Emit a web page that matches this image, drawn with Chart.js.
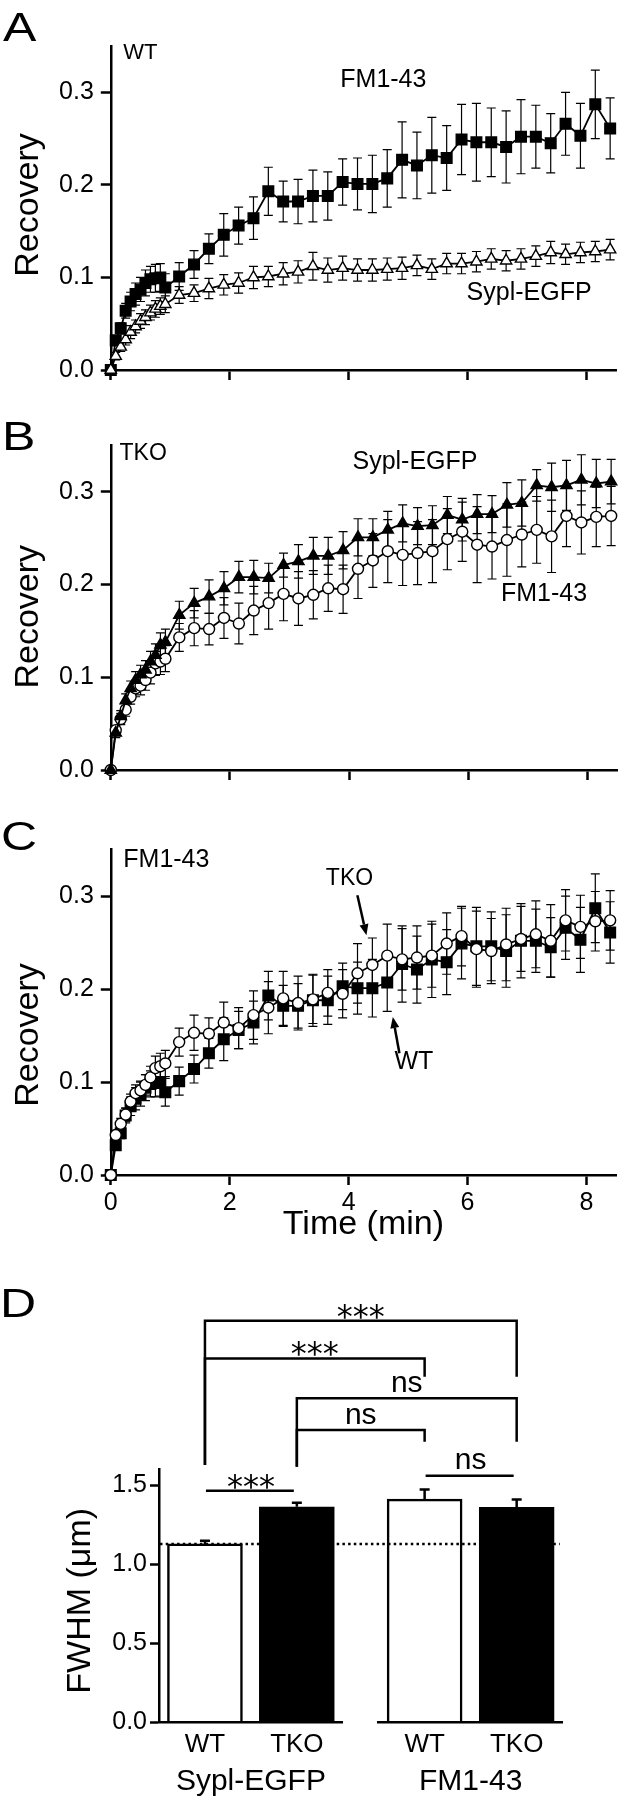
<!DOCTYPE html>
<html>
<head>
<meta charset="utf-8">
<title>FM1-43 / Sypl-EGFP recovery and FWHM</title>
<script src="https://cdn.jsdelivr.net/npm/chart.js@4.4.1/dist/chart.umd.min.js"></script>
<style>
  html, body { margin: 0; padding: 0; background: #fff; }
  #fig { position: relative; width: 625px; height: 1800px; overflow: hidden; }
  #fig canvas { position: absolute; left: 0; }
  .panel { position: absolute; font-family: 'Liberation Sans', Arial, sans-serif; font-size: 40px;
           line-height: 1; color: #000; transform: scaleX(1.25); transform-origin: left top; }
</style>
</head>
<body>
<div id="fig">
  <canvas id="chartA" width="625" height="400" style="top:0px"></canvas>
  <canvas id="chartB" width="625" height="400" style="top:400px"></canvas>
  <canvas id="chartC" width="625" height="440" style="top:820px"></canvas>
  <canvas id="chartD1" width="625" height="515" style="top:1285px"></canvas>
  <canvas id="chartD2" width="625" height="515" style="top:1285px"></canvas>
  <div class="panel" style="left:3px;top:7px">A</div>
  <div class="panel" style="left:2px;top:416px">B</div>
  <div class="panel" style="left:1px;top:816px">C</div>
  <div class="panel" style="left:0px;top:1283px">D</div>
</div>
<script>
// Recovery time course (min) - same sampling for every series.
const timeMin = [0, 0.083, 0.167, 0.25, 0.333, 0.417, 0.5, 0.583, 0.667, 0.75, 0.833, 0.917,
  1.15, 1.4, 1.65, 1.9, 2.15, 2.4, 2.65, 2.9, 3.15, 3.4, 3.65, 3.9, 4.15, 4.4, 4.65, 4.9,
  5.15, 5.4, 5.65, 5.9, 6.15, 6.4, 6.65, 6.9, 7.15, 7.4, 7.65, 7.9, 8.15, 8.4];

// WT, FM1-43 (filled squares)
const wtFm = [0, 0.032, 0.045, 0.064, 0.074, 0.082, 0.087, 0.094, 0.098, 0.099, 0.1, 0.089,
  0.101, 0.114, 0.131, 0.146, 0.156, 0.164, 0.193, 0.182, 0.182, 0.188,
  0.188, 0.203, 0.201, 0.201, 0.207, 0.227, 0.221, 0.232, 0.229, 0.249,
  0.246, 0.246, 0.241, 0.252, 0.252, 0.245, 0.266, 0.253, 0.287, 0.261];
const wtFmErr = [0, 0.005, 0.006, 0.008, 0.01, 0.012, 0.013, 0.014, 0.014, 0.015, 0.015, 0.015,
  0.015, 0.015, 0.016, 0.023, 0.02, 0.023, 0.026, 0.022, 0.024, 0.028,
  0.026, 0.025, 0.028, 0.031, 0.031, 0.041, 0.036, 0.041, 0.035, 0.038,
  0.042, 0.037, 0.039, 0.04, 0.034, 0.032, 0.034, 0.035, 0.037, 0.033];

// WT, Sypl-EGFP (open triangles)
const wtSypl = [0, 0.015, 0.025, 0.033, 0.041, 0.047, 0.053, 0.057, 0.062, 0.066, 0.069, 0.071,
  0.081, 0.083, 0.088, 0.092, 0.094, 0.1, 0.101, 0.104, 0.106, 0.112,
  0.108, 0.11, 0.108, 0.108, 0.109, 0.11, 0.113, 0.109, 0.115, 0.115,
  0.117, 0.12, 0.118, 0.12, 0.123, 0.127, 0.125, 0.127, 0.128, 0.13];
const wtSyplErr = [0, 0.004, 0.005, 0.006, 0.007, 0.007, 0.008, 0.008, 0.008, 0.009, 0.009, 0.009,
  0.009, 0.009, 0.011, 0.011, 0.011, 0.012, 0.011, 0.012, 0.012, 0.015,
  0.013, 0.013, 0.012, 0.012, 0.012, 0.012, 0.011, 0.011, 0.011, 0.011,
  0.011, 0.011, 0.011, 0.011, 0.011, 0.012, 0.011, 0.011, 0.011, 0.011];

// TKO, Sypl-EGFP (filled triangles)
const tkoSypl = [0, 0.04, 0.058, 0.075, 0.088, 0.097, 0.103, 0.108, 0.117, 0.124, 0.135, 0.138,
  0.167, 0.18, 0.187, 0.196, 0.208, 0.208, 0.207, 0.221, 0.225, 0.231,
  0.231, 0.237, 0.251, 0.251, 0.259, 0.266, 0.263, 0.264, 0.275, 0.27,
  0.276, 0.276, 0.286, 0.288, 0.307, 0.305, 0.307, 0.313, 0.309, 0.311];
const tkoSyplErr = [0, 0.005, 0.006, 0.007, 0.008, 0.009, 0.01, 0.01, 0.011, 0.012, 0.013, 0.014,
  0.015, 0.016, 0.018, 0.018, 0.017, 0.018, 0.016, 0.013, 0.018, 0.02,
  0.02, 0.02, 0.02, 0.02, 0.02, 0.02, 0.02, 0.021, 0.02, 0.023,
  0.021, 0.02, 0.024, 0.025, 0.017, 0.026, 0.027, 0.027, 0.026, 0.024];

// TKO, FM1-43 (open circles)
const tkoFm = [0, 0.043, 0.055, 0.065, 0.079, 0.088, 0.091, 0.097, 0.105, 0.115, 0.117, 0.12,
  0.143, 0.153, 0.152, 0.164, 0.158, 0.172, 0.18, 0.19, 0.185, 0.189,
  0.196, 0.195, 0.217, 0.226, 0.236, 0.232, 0.234, 0.236, 0.249, 0.257,
  0.243, 0.241, 0.248, 0.254, 0.259, 0.252, 0.274, 0.267, 0.273, 0.274];
const tkoFmErr = [0, 0.005, 0.006, 0.007, 0.008, 0.009, 0.01, 0.011, 0.012, 0.013, 0.014, 0.014,
  0.015, 0.019, 0.017, 0.022, 0.022, 0.026, 0.028, 0.029, 0.029, 0.026,
  0.025, 0.026, 0.032, 0.029, 0.034, 0.033, 0.034, 0.034, 0.033, 0.032,
  0.041, 0.035, 0.039, 0.035, 0.036, 0.039, 0.033, 0.034, 0.032, 0.032];

const timeTicks = [0, 2, 4, 6, 8];
const recoveryTicks = [0, 0.1, 0.2, 0.3];

// Panel D: FWHM (um)
const genotypes = ['WT', 'TKO'];
const fwhmSypl = [1.13, 1.365];
const fwhmSyplErr = [0.02, 0.025];
const fwhmFm = [1.414, 1.362];
const fwhmFmErr = [0.06, 0.05];
const fwhmTicks = [0, 0.5, 1.0, 1.5];

// significance brackets: from bar, to bar, level, left leg end, right leg end, label
// bars are numbered 0..3 left to right, levels are in FWHM units
const brackets = [
  [0, 3, 2.543, 1.630, 2.189, '***'],
  [0, 2, 2.305, 1.630, 2.189, '***'],
  [1, 3, 2.052, 1.619, 1.777, 'ns'],
  [1, 2, 1.851, 1.619, 1.777, 'ns'],
  [0, 1, 1.467, null, null, '***'],
  [2, 3, 1.562, null, null, 'ns']
];

const FONT = "'Liberation Sans', Arial, Helvetica, sans-serif";
Chart.defaults.font.family = FONT;
Chart.defaults.color = '#000';

function drawErrors(chart, opts) {
  const ctx = chart.ctx;
  const yScale = chart.scales.y;
  ctx.save();
  ctx.strokeStyle = '#000';
  ctx.lineWidth = opts.lineWidth;
  chart.data.datasets.forEach((ds, di) => {
    if (!ds.errors) return;
    chart.getDatasetMeta(di).data.forEach((el, i) => {
      const e = ds.errors[i];
      if (!e) return;
      const v = typeof ds.data[i] === 'object' ? ds.data[i].y : ds.data[i];
      const x = el.x;
      const yTop = yScale.getPixelForValue(v + e);
      const yBot = yScale.getPixelForValue(opts.upOnly ? v : v - e);
      ctx.beginPath();
      ctx.moveTo(x, yBot);
      ctx.lineTo(x, yTop);
      ctx.moveTo(x - opts.cap, yTop);
      ctx.lineTo(x + opts.cap, yTop);
      if (!opts.upOnly) {
        ctx.moveTo(x - opts.cap, yBot);
        ctx.lineTo(x + opts.cap, yBot);
      }
      ctx.stroke();
    });
  });
  ctx.restore();
}

const errorBars = {
  id: 'errorBars',
  beforeDatasetsDraw(chart, args, opts) { if (!opts.onTop) drawErrors(chart, opts); },
  afterDatasetsDraw(chart, args, opts) { if (opts.onTop) drawErrors(chart, opts); }
};

// in-plot labels, arrows and the rotated y title
const notes = {
  id: 'notes',
  afterDraw(chart, args, opts) {
    const ctx = chart.ctx;
    const xs = chart.scales.x, ys = chart.scales.y;
    ctx.save();
    ctx.fillStyle = '#000';
    ctx.strokeStyle = '#000';
    (opts.labels || []).forEach(n => {
      ctx.font = n.size + 'px ' + FONT;
      ctx.textAlign = n.align || 'center';
      ctx.textBaseline = 'middle';
      ctx.fillText(n.text, xs.getPixelForValue(n.t), ys.getPixelForValue(n.v));
    });
    (opts.arrows || []).forEach(a => {
      const x1 = xs.getPixelForValue(a.t1), y1 = ys.getPixelForValue(a.v1);
      const x2 = xs.getPixelForValue(a.t2), y2 = ys.getPixelForValue(a.v2);
      const ang = Math.atan2(y2 - y1, x2 - x1);
      const len = 11, half = 4.5;
      const bx = x2 - Math.cos(ang) * len, by = y2 - Math.sin(ang) * len;
      ctx.lineWidth = 2.5;
      ctx.beginPath();
      ctx.moveTo(x1, y1);
      ctx.lineTo(bx, by);
      ctx.stroke();
      ctx.beginPath();
      ctx.moveTo(x2, y2);
      ctx.lineTo(bx - Math.sin(ang) * half, by + Math.cos(ang) * half);
      ctx.lineTo(bx + Math.sin(ang) * half, by - Math.cos(ang) * half);
      ctx.closePath();
      ctx.fill();
    });
    if (opts.yTitle) {
      const t = opts.yTitle;
      ctx.font = t.size + 'px ' + FONT;
      ctx.translate(t.x, t.y);
      ctx.rotate(-Math.PI / 2);
      ctx.textAlign = 'center';
      ctx.textBaseline = 'alphabetic';
      ctx.fillText(t.text, 0, t.size * 0.253);
    }
    ctx.restore();
  }
};

function series(values, errors, style) {
  return Object.assign({
    data: timeMin.map((t, i) => ({x: t, y: values[i]})),
    errors: errors,
    borderColor: '#000',
    borderWidth: 1.8,
    pointBorderColor: '#000',
    pointBorderWidth: 1.4,
    tension: 0,
    clip: false
  }, style);
}

const squares = {pointStyle: 'rect', pointRadius: 7.5, pointBackgroundColor: '#000'};
const openTriangles = {pointStyle: 'triangle', pointRadius: 6.5, pointBackgroundColor: '#fff'};
const filledTriangles = {pointStyle: 'triangle', pointRadius: 6.5, pointBackgroundColor: '#000'};
const openCircles = {pointStyle: 'circle', pointRadius: 5.5, pointBackgroundColor: '#fff'};

function recoveryChart(id, padTop, xHeight, showTime, datasets, noteOpts) {
  return new Chart(document.getElementById(id), {
    type: 'line',
    data: {datasets: datasets},
    options: {
      responsive: false,
      animation: false,
      devicePixelRatio: 1,
      events: [],
      layout: {padding: {left: 0, right: 2.1, top: padTop, bottom: 0}},
      plugins: {
        legend: {display: false},
        tooltip: {enabled: false},
        errorBars: {lineWidth: 1.2, cap: 4.5, upOnly: false, onTop: false},
        notes: noteOpts
      },
      scales: {
        x: {
          type: 'linear',
          min: 0,
          max: 8.5,
          afterBuildTicks: s => { s.ticks = timeTicks.map(v => ({value: v})); },
          afterFit: s => { s.height = xHeight; },
          border: {color: '#000', width: 2.5},
          grid: {drawOnChartArea: false, tickLength: 10, tickWidth: 2.5, tickColor: '#000'},
          ticks: {display: showTime, padding: 3.5, font: {size: 25}, color: '#000'},
          title: {
            display: showTime,
            text: 'Time (min)',
            font: {size: 34},
            color: '#000',
            padding: {top: 0, bottom: 14.6}
          }
        },
        y: {
          type: 'linear',
          min: 0,
          max: 0.35,
          afterBuildTicks: s => { s.ticks = recoveryTicks.map(v => ({value: v})); },
          afterFit: s => { s.width = 110.8; },
          border: {color: '#000', width: 2.5},
          grid: {drawOnChartArea: false, tickLength: 10, tickWidth: 2.5, tickColor: '#000'},
          ticks: {padding: 7, font: {size: 25}, color: '#000', callback: v => v.toFixed(1)}
        }
      }
    },
    plugins: [errorBars, notes]
  });
}

// A: wild type
recoveryChart('chartA', 46, 30, false, [
  series(wtSypl, wtSyplErr, openTriangles),
  series(wtFm, wtFmErr, squares)
], {
  yTitle: {text: 'Recovery', size: 34, x: 29, y: 205},
  labels: [
    {text: 'WT', t: 0.21, v: 0.342, size: 22, align: 'left'},
    {text: 'FM1-43', t: 4.585, v: 0.313, size: 25},
    {text: 'Sypl-EGFP', t: 7.036, v: 0.083, size: 25}
  ]
});

// B: triple knockout
recoveryChart('chartB', 45.5, 30, false, [
  series(tkoSypl, tkoSyplErr, filledTriangles),
  series(tkoFm, tkoFmErr, openCircles)
], {
  yTitle: {text: 'Recovery', size: 34, x: 29, y: 216.7},
  labels: [
    {text: 'TKO', t: 0.146, v: 0.341, size: 23, align: 'left'},
    {text: 'Sypl-EGFP', t: 5.107, v: 0.332, size: 25},
    {text: 'FM1-43', t: 7.273, v: 0.19, size: 25}
  ]
});

// C: FM1-43, WT vs TKO
recoveryChart('chartC', 29.7, 85, true, [
  series(tkoFm, tkoFmErr, openCircles),
  series(wtFm, wtFmErr, squares)
], {
  yTitle: {text: 'Recovery', size: 34, x: 29, y: 215},
  labels: [
    {text: 'FM1-43', t: 0.21, v: 0.339, size: 25, align: 'left'},
    {text: 'TKO', t: 4.015, v: 0.319, size: 23},
    {text: 'WT', t: 5.099, v: 0.122, size: 25}
  ],
  arrows: [
    {t1: 4.148, v1: 0.301, t2: 4.3, v2: 0.258},
    {t1: 4.855, v1: 0.131, t2: 4.744, v2: 0.170}
  ]
});

function fwhmChart(id, pad, groupName, values, errors, showY, extraPlugins, noteOpts) {
  return new Chart(document.getElementById(id), {
    type: 'bar',
    data: {
      labels: genotypes,
      datasets: [{
        data: values,
        errors: errors,
        backgroundColor: ['#fff', '#000'],
        borderColor: '#000',
        borderWidth: 2.5,
        barThickness: 75
      }]
    },
    options: {
      responsive: false,
      animation: false,
      devicePixelRatio: 1,
      events: [],
      layout: {padding: pad},
      plugins: {
        legend: {display: false},
        tooltip: {enabled: false},
        errorBars: {lineWidth: 2.5, cap: 5, upOnly: true, onTop: true},
        notes: noteOpts || {}
      },
      scales: {
        x: {
          type: 'category',
          afterFit: s => { s.height = 77.7; },
          border: {display: true, color: '#000', width: 2.5, z: 1},
          grid: {display: false, drawTicks: false},
          ticks: {font: {size: 26}, padding: 7, color: '#000', maxRotation: 0},
          title: {display: true, text: groupName, font: {size: 30}, color: '#000', padding: {top: 0, bottom: 0}}
        },
        y: {
          display: showY,
          min: 0,
          max: 1.6,
          afterBuildTicks: s => { s.ticks = fwhmTicks.map(v => ({value: v})); },
          afterFit: s => { s.width = showY ? 159 : 0; },
          border: {color: '#000', width: 2.5},
          grid: {drawOnChartArea: false, tickLength: 9, tickWidth: 2.5, tickColor: '#000'},
          ticks: {padding: 3, font: {size: 25}, color: '#000', callback: v => v.toFixed(1)}
        }
      }
    },
    plugins: [errorBars].concat(extraPlugins)
  });
}

const chartD1 = fwhmChart('chartD1', {left: 0, right: 282.2, top: 184.7, bottom: 0},
  'Sypl-EGFP', fwhmSypl, fwhmSyplErr, true, [notes],
  {yTitle: {text: 'FWHM (\u03bcm)', size: 34, x: 81, y: 315.8}});

// reference line and significance brackets across both bar groups
const bracketPlugin = {
  id: 'brackets',
  afterDraw(chart) {
    const ctx = chart.ctx;
    const ys = chart.scales.y;
    const x1 = chartD1.scales.x, x2 = chart.scales.x;
    const cx = [x1.getPixelForValue(0), x1.getPixelForValue(1), x2.getPixelForValue(0), x2.getPixelForValue(1)];
    ctx.save();
    ctx.strokeStyle = '#000';
    ctx.fillStyle = '#000';

    // dotted line at the WT Sypl-EGFP mean
    const yRef = ys.getPixelForValue(fwhmSypl[0]);
    ctx.lineWidth = 2.5;
    ctx.setLineDash([2.5, 3.2]);
    ctx.beginPath();
    ctx.moveTo(chartD1.chartArea.left + 1, yRef);
    ctx.lineTo(chart.chartArea.right - 3, yRef);
    ctx.stroke();
    ctx.setLineDash([]);

    ctx.lineWidth = 2.5;
    ctx.textAlign = 'center';
    ctx.textBaseline = 'alphabetic';
    brackets.forEach(([a, b, level, legA, legB, label]) => {
      const y = ys.getPixelForValue(level);
      let xa = cx[a], xb = cx[b];
      ctx.beginPath();
      if (legA === null) {
        xa += 1;
        xb -= 3;
        ctx.moveTo(xa, y);
        ctx.lineTo(xb, y);
      } else {
        ctx.moveTo(xa, ys.getPixelForValue(legA));
        ctx.lineTo(xa, y);
        ctx.lineTo(xb, y);
        ctx.lineTo(xb, ys.getPixelForValue(legB));
      }
      ctx.stroke();
      const mid = (cx[a] + cx[b]) / 2;
      if (label === '***') {
        ctx.font = "32px 'DejaVu Sans', sans-serif";
        ctx.fillText(label, mid, y + 6);
      } else {
        ctx.font = '30px ' + FONT;
        ctx.fillText(label, mid, y - 6.5);
      }
    });
    ctx.restore();
  }
};

fwhmChart('chartD2', {left: 378.6, right: 62.3, top: 184.7, bottom: 0},
  'FM1-43', fwhmFm, fwhmFmErr, false, [bracketPlugin]);
</script>
</body>
</html>
